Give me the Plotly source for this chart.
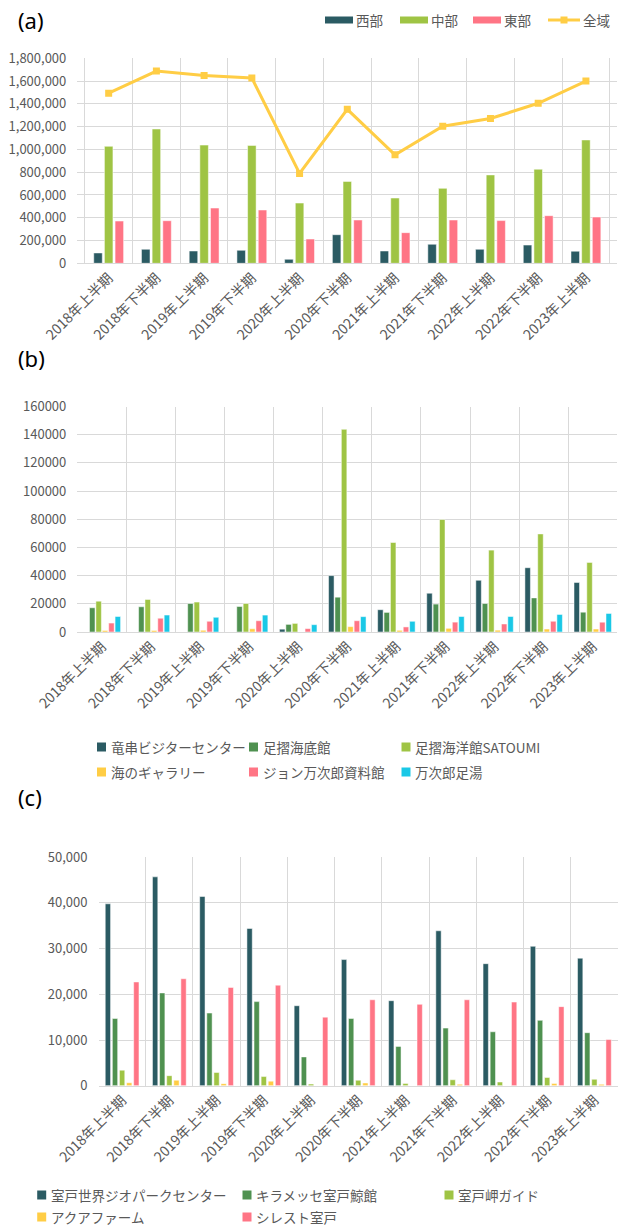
import plotly.graph_objects as go

# ---------------- data ----------------
periods = ["2018年上半期", "2018年下半期", "2019年上半期", "2019年下半期", "2020年上半期",
           "2020年下半期", "2021年上半期", "2021年下半期", "2022年上半期", "2022年下半期",
           "2023年上半期"]

# (a) regional totals
region_names = ["西部", "中部", "東部"]
west = [91000, 123000, 108000, 114000, 35000, 251000, 108000, 167000, 123000, 160000, 106000]
central = [1027000, 1179000, 1038000, 1035000, 529000, 719000, 573000, 658000, 776000, 826000, 1083000]
east = [371000, 374000, 485000, 468000, 213000, 380000, 269000, 380000, 375000, 418000, 406000]
total_name = "全域"
total = [1494000, 1688000, 1648000, 1627000, 789000, 1352000, 953000, 1203000, 1271000, 1405000, 1600000]

# (b) facilities
b_names = ["竜串ビジターセンター", "足摺海底館", "足摺海洋館SATOUMI",
           "海のギャラリー", "ジョン万次郎資料館", "万次郎足湯"]
tatsukushi_vc = [None, None, None, None, 2000, 40000, 15800, 27500, 36700, 45600, 35100]
kaiteikan = [17200, 17900, 20200, 18100, 5400, 24700, 13900, 19800, 20200, 24200, 14100]
satoumi = [21900, 23100, 21200, 20200, 6100, 143800, 63500, 79800, 58100, 69600, 49400]
umi_gallery = [1000, 1000, 1200, 2300, 0, 3800, 1200, 2600, 1300, 2100, 2100]
manjiro_museum = [6300, 9800, 7600, 8000, 2400, 8000, 3600, 7000, 5700, 7600, 7000]
manjiro_footbath = [11000, 12000, 10400, 12000, 5200, 10900, 7600, 11000, 11000, 12500, 13200]

# (c) facilities
c_names = ["室戸世界ジオパークセンター", "キラメッセ室戸鯨館", "室戸岬ガイド",
           "アクアファーム", "シレスト室戸"]
geopark_center = [39800, 45700, 41400, 34400, 17500, 27600, 18600, 33900, 26700, 30500, 27900]
kiramesse = [14700, 20300, 15900, 18400, 6300, 14700, 8600, 12600, 11800, 14300, 11600]
cape_guide = [3400, 2200, 2900, 2000, 350, 1200, 500, 1300, 800, 1800, 1400]
aqua_farm = [650, 1200, 450, 1000, 0, 600, 0, 300, 0, 500, 300]
cillest = [22700, 23400, 21500, 22000, 15000, 18800, 17800, 18800, 18300, 17300, 10100]

# ---------------- style ----------------
W, H = 622, 1227
FONT = "Noto Sans CJK JP"
GRID = "#d9d9d9"
TXT = "#595959"
TEAL = "#2b5b63"
GREEN = "#4f9150"
LIME = "#9fc444"
YELLOW = "#ffcd45"
PINK = "#ff7585"
CYAN = "#1ac8e6"


def xp(px):
    return px / W


def yp(py):
    return 1 - py / H


def group_layout(n, gap, groupgap):
    """Bar width and per-series offsets (category units) for a grouped set."""
    slot = (1 - gap) / n
    width = slot * (1 - groupgap)
    return width, [-(1 - gap) / 2 + i * slot + (slot - width) / 2 for i in range(n)]


fig = go.Figure()


def add_bars(series, names, colors, xa, ya, gap, groupgap):
    width, offsets = group_layout(len(series), gap, groupgap)
    for vals, name, col, off in zip(series, names, colors, offsets):
        fig.add_trace(go.Bar(
            x=periods, y=vals, name=name, marker_color=col,
            marker_line=dict(color="white", width=0.5),
            width=width, offset=off, xaxis=xa, yaxis=ya, showlegend=False,
            hoverinfo="x+y+name"))


# (a)
add_bars([west, central, east], region_names, [TEAL, LIME, PINK], "x", "y", 0.33, 0.2)
fig.add_trace(go.Scatter(
    x=periods, y=total, name=total_name, mode="lines+markers",
    line=dict(color=YELLOW, width=3), marker=dict(symbol="square", size=7, color=YELLOW),
    xaxis="x", yaxis="y", showlegend=False))

# (b)
b_colors = [TEAL, GREEN, LIME, YELLOW, PINK, CYAN]
add_bars([tatsukushi_vc, kaiteikan, satoumi, umi_gallery, manjiro_museum, manjiro_footbath],
         b_names, b_colors, "x2", "y2", 0.218, 0.14)

# (c)
c_colors = [TEAL, GREEN, LIME, YELLOW, PINK]
add_bars([geopark_center, kiramesse, cape_guide, aqua_farm, cillest],
         c_names, c_colors, "x3", "y3", 0.248, 0.25)

xcommon = dict(type="category", tickson="boundaries", showgrid=True, gridcolor=GRID,
               gridwidth=1, showline=True, linecolor=GRID, linewidth=1, tickangle=-45,
               ticks="", tickfont=dict(size=14, color=TXT), automargin=False,
               fixedrange=True)
ycommon = dict(showgrid=True, gridcolor=GRID, gridwidth=1, zeroline=False, showline=False,
               ticks="", tickfont=dict(size=13, color=TXT), ticklabelstandoff=10,
               automargin=False, fixedrange=True)

fig.update_layout(
    width=W, height=H, margin=dict(l=0, r=0, t=0, b=0),
    paper_bgcolor="white", plot_bgcolor="white",
    font=dict(family=FONT, size=13, color=TXT),
    barmode="group", showlegend=False,
    xaxis=dict(xcommon, domain=[xp(77.3), xp(617.3)], anchor="y"),
    yaxis=dict(ycommon, domain=[yp(263.3), yp(58.3)], anchor="x",
               range=[0, 1800000], dtick=200000, tickformat=","),
    xaxis2=dict(xcommon, domain=[xp(77.3), xp(617.3)], anchor="y2"),
    yaxis2=dict(ycommon, domain=[yp(632), yp(406.5)], anchor="x2",
                range=[0, 160000], dtick=20000, tickformat="d"),
    xaxis3=dict(xcommon, domain=[xp(98.5), xp(618)], anchor="y3"),
    yaxis3=dict(ycommon, domain=[yp(1085.7), yp(857.2)], anchor="x3",
                range=[0, 50000], dtick=10000, tickformat=","),
)

# ---------------- legends (Excel-style key rows) ----------------
shapes = []
LEG_FONT = dict(family=FONT, size=13.5, color=TXT)


def key_text(label, x_px, y_px):
    fig.add_annotation(text=label, x=xp(x_px), y=yp(y_px), xref="paper", yref="paper",
                       xanchor="left", yanchor="middle", showarrow=False, font=LEG_FONT,
                       borderpad=0)


def key_box(color, cx, cy, w, h):
    shapes.append(dict(type="rect", xref="paper", yref="paper",
                       x0=xp(cx - w / 2), x1=xp(cx + w / 2),
                       y0=yp(cy + h / 2), y1=yp(cy - h / 2),
                       fillcolor=color, line=dict(width=0)))


# (a) key: wide bar swatches plus a line swatch with a square marker
a_key_y = 20
for name, col, cx in zip(region_names, [TEAL, LIME, PINK], [339, 414, 487]):
    key_box(col, cx, a_key_y, 28, 7)
    key_text(name, cx + 16, a_key_y)
shapes.append(dict(type="line", xref="paper", yref="paper",
                   x0=xp(548), x1=xp(580), y0=yp(a_key_y), y1=yp(a_key_y),
                   line=dict(color=YELLOW, width=3)))
key_box(YELLOW, 564, a_key_y, 7, 7)
key_text(total_name, 582, a_key_y)

# (b) key: two rows of three
b_cols = [101.5, 253.5, 406]
for i, (name, col) in enumerate(zip(b_names, b_colors)):
    cx = b_cols[i % 3]
    cy = [747, 772][i // 3]
    key_box(col, cx, cy, 9, 9)
    key_text(name, cx + 8, cy)

# (c) key: three on the first row, two on the second
c_cols = [41.7, 247, 449]
for i, (name, col) in enumerate(zip(c_names, c_colors)):
    cx = c_cols[i % 3]
    cy = [1195, 1217][i // 3]
    key_box(col, cx, cy, 9, 9)
    key_text(name, cx + 8, cy)

fig.update_layout(shapes=shapes)

for label, ypx in [("(a)", 20), ("(b)", 358), ("(c)", 797)]:
    fig.add_annotation(text=label, x=xp(16), y=yp(ypx), xref="paper", yref="paper",
                       xanchor="left", yanchor="middle", showarrow=False,
                       font=dict(family="Noto Sans", size=22, color="black"))

fig.write_html("out.html")
